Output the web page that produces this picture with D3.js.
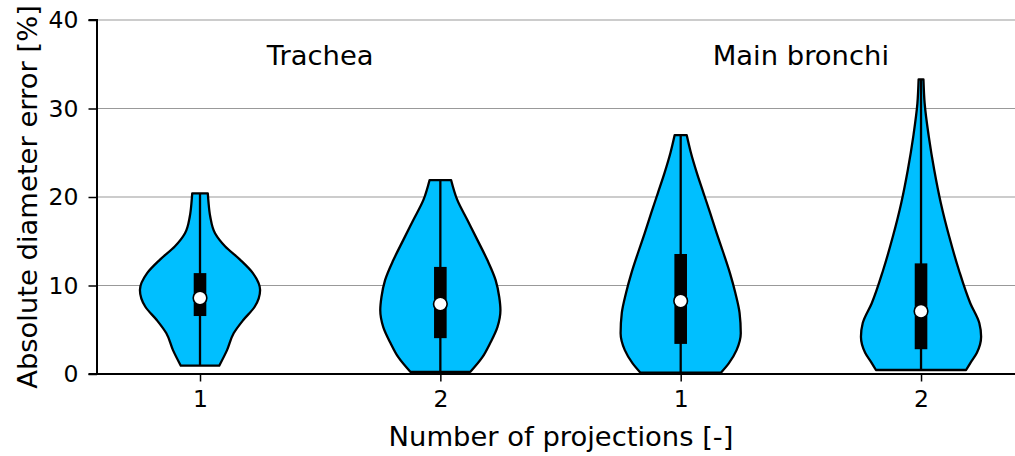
<!DOCTYPE html>
<html><head><meta charset="utf-8">
<script src="https://cdn.jsdelivr.net/npm/d3@7"></script>
<style>body{margin:0;background:#fff}svg{display:block;font-family:"DejaVu Sans",sans-serif}</style>
</head><body><svg id="c" width="1015" height="456"></svg>
<script>
// Category positions and labels
const positions = [1, 2, 3, 4];
const tickLabels = ["1", "2", "1", "2"];
const groupLabels = ["Trachea", "Main bronchi"];
const yTicks = [0, 10, 20, 30, 40];

// Violin profiles: values (%) and relative half-widths (1 = max width)
const v1Values = [0.94, 2.7, 4.6, 6.1, 7.6, 9.5, 11.4, 12.9, 14.4, 15.9, 17.8, 19.5, 20.4];
const v1Widths = [0.32, 0.45, 0.56, 0.72, 0.91, 1.0, 0.88, 0.67, 0.42, 0.25, 0.17, 0.14, 0.13];
const v2Values = [0.25, 1.9, 3.5, 5.3, 7.2, 8.7, 10.6, 12.9, 15.1, 17.4, 19.7, 21.9];
const v2Widths = [0.50, 0.70, 0.83, 0.95, 1.0, 0.98, 0.92, 0.78, 0.62, 0.45, 0.28, 0.18];
const v3Values = [0.15, 1.2, 2.7, 4.6, 6.9, 9.15, 11.4, 13.7, 15.9, 18.2, 20.45, 22.7, 25.0, 27.0];
const v3Widths = [0.67, 0.80, 0.93, 1.0, 0.98, 0.91, 0.82, 0.71, 0.60, 0.49, 0.38, 0.27, 0.17, 0.10];
const v4Values = [0.45, 1.24, 2.4, 4.2, 5.76, 8.0, 11.75, 15.5, 19.3, 23.05, 26.8, 30.6, 33.3];
const v4Widths = [0.75, 0.82, 0.93, 1.0, 0.97, 0.82, 0.63, 0.47, 0.33, 0.22, 0.13, 0.06, 0.04];

// Summary stats: min, q1, median, q3, max
const mins = [0.94, 0.25, 0.15, 0.45];
const q1s = [6.55, 4.05, 3.4, 2.8];
const medians = [8.6, 7.9, 8.25, 7.1];
const q3s = [11.4, 12.1, 13.56, 12.5];
const maxs = [20.4, 21.9, 27.0, 33.3];

const profiles = [
  {vals: v1Values, w: v1Widths},
  {vals: v2Values, w: v2Widths},
  {vals: v3Values, w: v3Widths},
  {vals: v4Values, w: v4Widths}
];

const svg = d3.select("#c");
const x = d3.scaleLinear().domain([0.5714, 4.391]).range([97, 1015]);
const y = d3.scaleLinear().domain([0, 40]).range([374, 20]);
const halfW = (x(1.25) - x(1)); // widths 0.5 -> half 0.25

// gridlines
svg.append("g").selectAll("line").data(yTicks.filter(d => d > 0)).join("line")
  .attr("x1", x.range()[0]).attr("x2", x.range()[1])
  .attr("y1", d => y(d)).attr("y2", d => y(d))
  .attr("stroke", "#999").attr("stroke-width", 1);

// violins
const area = d3.area()
  .curve(d3.curveMonotoneY)
  .y(d => y(d.v))
  .x0(d => x(d.p) - d.w * halfW)
  .x1(d => x(d.p) + d.w * halfW);

profiles.forEach((pr, i) => {
  const pts = pr.vals.map((v, j) => ({v, w: pr.w[j], p: positions[i]}));
  svg.append("path").datum(pts).attr("d", area)
    .attr("fill", "#00bfff").attr("stroke", "#000").attr("stroke-width", 2.3)
    .attr("stroke-linejoin", "round");
});

// whiskers
svg.append("g").selectAll("line").data(positions).join("line")
  .attr("x1", d => x(d)).attr("x2", d => x(d))
  .attr("y1", (d, i) => y(mins[i])).attr("y2", (d, i) => y(maxs[i]))
  .attr("stroke", "#000").attr("stroke-width", 2.3);
// boxes
svg.append("g").selectAll("rect").data(positions).join("rect")
  .attr("x", d => x(d) - 6.3).attr("width", 12.6)
  .attr("y", (d, i) => y(q3s[i])).attr("height", (d, i) => y(q1s[i]) - y(q3s[i]))
  .attr("fill", "#000");
// medians
svg.append("g").selectAll("circle").data(positions).join("circle")
  .attr("cx", d => x(d)).attr("cy", (d, i) => y(medians[i])).attr("r", 6.8)
  .attr("fill", "#fff").attr("stroke", "#000").attr("stroke-width", 1.6);

// axes
const yAxis = d3.axisLeft(y).tickValues(yTicks).tickSize(8.5).tickPadding(10);
const gy = svg.append("g").attr("transform", `translate(${x.range()[0]},0)`).call(yAxis);
gy.select(".domain").attr("stroke-width", 2).attr("d", `M-8.5,${y(40)}H0V${y(0)}H-8.5`);
gy.selectAll(".tick line").attr("stroke-width", 1.5);
gy.selectAll("text").attr("font-size", 23.5).attr("font-family", "DejaVu Sans").attr("fill", "#000");

const xAxis = d3.axisBottom(x).tickValues(positions).tickFormat((d, i) => tickLabels[i]).tickSize(7.5).tickPadding(9);
const gx = svg.append("g").attr("transform", `translate(0,${y(0)})`).call(xAxis);
gx.select(".domain").attr("stroke-width", 2).attr("d", `M${x.range()[0]},0H${x.range()[1]}`);
gx.selectAll(".tick line").attr("stroke-width", 1.5);
gx.selectAll("text").attr("font-size", 23.5).attr("font-family", "DejaVu Sans").attr("fill", "#000");

// group labels
svg.append("g").selectAll("text").data(groupLabels).join("text")
  .attr("x", (d, i) => x(positions[i * 2] + 0.5)).attr("y", 65)
  .attr("text-anchor", "middle")
  .attr("font-size", 27.4).text(d => d);

// axis titles
svg.append("text").attr("x", 561).attr("y", 446)
  .attr("text-anchor", "middle").attr("font-size", 27.4).text("Number of projections [-]");
svg.append("text").attr("transform", `translate(27,${(y(0) + y(40)) / 2}) rotate(-90)`)
  .attr("text-anchor", "middle").attr("dominant-baseline", "central")
  .attr("font-size", 27.4).text("Absolute diameter error [%]");
</script></body></html>
